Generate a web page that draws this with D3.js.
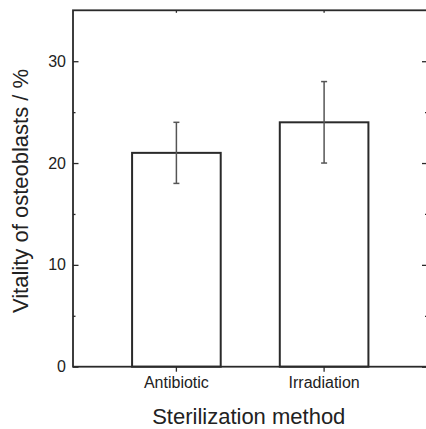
<!DOCTYPE html>
<html>
<head>
    <meta charset="utf-8">
    <title>Vitality of osteoblasts</title>
    <script src="https://d3js.org/d3.v7.min.js"></script>
    <style>
        body { margin: 0; background: #fff; }
        text { font-family: "Liberation Sans", Arial, sans-serif; fill: #222; }
    </style>
</head>
<body>
    <div id="chart"></div>
    <script>
        // data
        var categories = ['Antibiotic', 'Irradiation'];
        var values = [21, 24];
        var errLow = [18, 20];
        var errHigh = [24, 28];
        var yMajorTicks = [0, 10, 20, 30];
        var yMinorTicks = [5, 15, 25];

        var width = 426, height = 429;
        // plot box (right edge lies just outside the picture)
        var pLeft = 73, pRight = 427.5, pTop = 10.3, pBottom = 366.7;

        var svg = d3.select('#chart').append('svg')
            .attr('width', width)
            .attr('height', height);

        var x = d3.scaleBand()
            .domain(categories)
            .range([pLeft, pRight])
            .paddingInner(0.4)
            .paddingOuter(0.4);

        var y = d3.scaleLinear()
            .domain([0, 35])
            .range([pBottom, pTop]);

        // bars
        svg.selectAll('.bar')
            .data(values)
            .enter()
            .append('rect')
            .attr('class', 'bar')
            .attr('x', function (d, i) { return x(categories[i]); })
            .attr('y', function (d) { return y(d); })
            .attr('width', x.bandwidth())
            .attr('height', function (d) { return y(0) - y(d); })
            .style('fill', '#fff')
            .style('stroke', '#2a2a2a')
            .style('stroke-width', 2);

        // error bars
        function cx(i) { return x(categories[i]) + x.bandwidth() / 2; }
        var eb = svg.selectAll('.err')
            .data(values)
            .enter()
            .append('g')
            .attr('class', 'err')
            .style('stroke', '#555')
            .style('stroke-width', 1.5);
        eb.append('line')
            .attr('x1', function (d, i) { return cx(i); })
            .attr('x2', function (d, i) { return cx(i); })
            .attr('y1', function (d, i) { return y(errLow[i]); })
            .attr('y2', function (d, i) { return y(errHigh[i]); });
        eb.append('line')
            .attr('x1', function (d, i) { return cx(i) - 3; })
            .attr('x2', function (d, i) { return cx(i) + 3; })
            .attr('y1', function (d, i) { return y(errHigh[i]); })
            .attr('y2', function (d, i) { return y(errHigh[i]); });
        eb.append('line')
            .attr('x1', function (d, i) { return cx(i) - 3; })
            .attr('x2', function (d, i) { return cx(i) + 3; })
            .attr('y1', function (d, i) { return y(errLow[i]); })
            .attr('y2', function (d, i) { return y(errLow[i]); });

        // axes
        function styleAxis(g) {
            g.select('.domain').remove();
            g.selectAll('line').style('stroke', '#2a2a2a').style('stroke-width', 1.3);
            g.selectAll('text').style('font-size', '16px').style('fill', '#222');
        }

        svg.append('g')
            .attr('transform', 'translate(' + pLeft + ',0)')
            .call(d3.axisLeft(y).tickValues(yMajorTicks).tickSizeInner(-5.5).tickSizeOuter(0).tickPadding(7))
            .call(styleAxis);
        svg.append('g')
            .attr('transform', 'translate(' + pLeft + ',0)')
            .call(d3.axisLeft(y).tickValues(yMinorTicks).tickSizeInner(-2.5).tickSizeOuter(0).tickFormat(''))
            .call(styleAxis);
        svg.append('g')
            .attr('transform', 'translate(' + pRight + ',0)')
            .call(d3.axisRight(y).tickValues(yMajorTicks).tickSizeInner(-5.5).tickSizeOuter(0).tickFormat(''))
            .call(styleAxis);
        svg.append('g')
            .attr('transform', 'translate(' + pRight + ',0)')
            .call(d3.axisRight(y).tickValues(yMinorTicks).tickSizeInner(-2.5).tickSizeOuter(0).tickFormat(''))
            .call(styleAxis);
        svg.append('g')
            .attr('transform', 'translate(0,' + pBottom + ')')
            .call(d3.axisBottom(x).tickSizeInner(5).tickSizeOuter(0).tickPadding(5))
            .call(styleAxis);
        svg.append('g')
            .attr('transform', 'translate(0,' + pTop + ')')
            .call(d3.axisTop(x).tickSizeInner(-2.5).tickSizeOuter(0).tickFormat(''))
            .call(styleAxis);

        // frame
        svg.append('rect')
            .attr('x', pLeft)
            .attr('y', pTop)
            .attr('width', pRight - pLeft)
            .attr('height', pBottom - pTop)
            .style('fill', 'none')
            .style('stroke', '#2a2a2a')
            .style('stroke-width', 1.8);

        // axis titles
        svg.append('text')
            .attr('x', (pLeft + pRight) / 2 - 1.5)
            .attr('y', 424)
            .attr('text-anchor', 'middle')
            .style('font-size', '22px')
            .text('Sterilization method');

        svg.append('text')
            .attr('transform', 'translate(28,191) rotate(-90)')
            .attr('text-anchor', 'middle')
            .style('font-size', '22px')
            .text('Vitality of osteoblasts / %');
    </script>
</body>
</html>
